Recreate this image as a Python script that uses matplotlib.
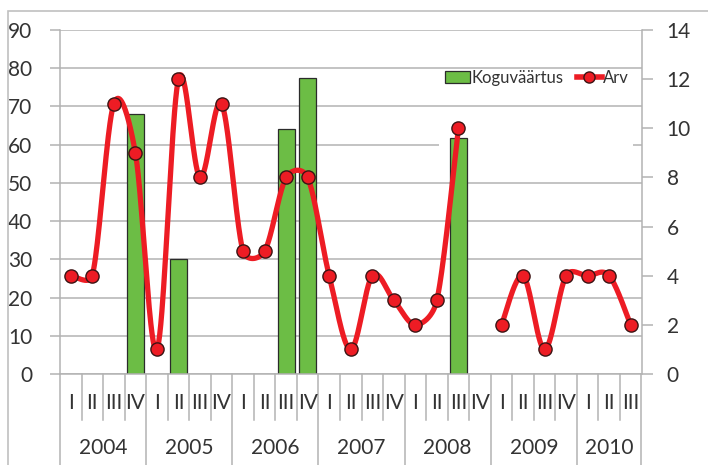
import numpy as np
import matplotlib
matplotlib.use("Agg")
import matplotlib.pyplot as plt
from matplotlib.patches import Rectangle, Patch
from matplotlib.lines import Line2D
import matplotlib.transforms as mtransforms

plt.rcParams['font.family'] = ['Lato', 'DejaVu Sans']

years = ['2004', '2005', '2006', '2007', '2008', '2009', '2010']
quarters_per_year = [4, 4, 4, 4, 4, 4, 3]
quarter_names = ['I', 'II', 'III', 'IV']

nan = np.nan
koguvaartus = [nan, nan, nan, 68,
               nan, 30, nan, nan,
               nan, nan, 64, 77.5,
               nan, nan, nan, nan,
               nan, nan, 61.7, nan,
               nan, nan, nan, nan,
               nan, nan, nan]
arv = [4, 4, 11, 9,
       1, 12, 8, 11,
       5, 5, 8, 8,
       4, 1, 4, 3,
       2, 3, 10, nan,
       2, 4, 1, 4,
       4, 4, 2]

GREEN = '#6cbd45'
RED = '#ed1c24'
GRID = '#b3b3b3'
TXT = '#333333'

W, H = 708, 465
fig = plt.figure(figsize=(W / 100, H / 100), dpi=100)
L, R, T, B = 60, 641.5, 30, 374
ax = fig.add_axes([L / W, 1 - B / H, (R - L) / W, (B - T) / H])
ax2 = ax.twinx()

# outer chart border
fig.patches.append(Rectangle((8 / W, -0.1), 1.2, 1 - 11 / H + 0.1, transform=fig.transFigure,
                             fill=False, edgecolor='#c0c0c0', linewidth=1.2))

n = len(arv)
x = np.arange(n)

ax.set_xlim(-0.5, n - 0.5)
ax.set_ylim(0, 90)
ax2.set_ylim(0, 14)
ax.set_yticks(np.arange(0, 91, 10))
ax2.set_yticks(np.arange(0, 15, 2))

ax.set_axisbelow(True)
ax.yaxis.grid(True, color=GRID, linewidth=1.1)
ax.xaxis.grid(False)
ax.set_xticks([])

for a in (ax, ax2):
    for s in a.spines.values():
        s.set_visible(False)
ax.spines['left'].set_visible(True)
ax.spines['left'].set_color(GRID)
ax.spines['bottom'].set_visible(True)
ax.spines['bottom'].set_color(GRID)
ax2.spines['right'].set_visible(True)
ax2.spines['right'].set_color(GRID)
for sp in (ax.spines['left'], ax.spines['bottom'], ax2.spines['right']):
    sp.set_linewidth(1.1)

ax.tick_params(axis='y', length=7, color=GRID, width=1.1, pad=13, labelsize=15, labelcolor=TXT)
ax2.tick_params(axis='y', length=8, color=GRID, width=1.1, pad=10, labelsize=15, labelcolor=TXT)

# legend background box (white, hides gridlines)
box_tr = mtransforms.Affine2D().scale(1, -1).translate(0, H)
ax.add_patch(Rectangle((439, 115), 194, 60, transform=box_tr, facecolor='white',
                       edgecolor='none', zorder=0.8))

# bars
vals = np.array(koguvaartus, dtype=float)
mask = ~np.isnan(vals)
ax.bar(x[mask], vals[mask], width=0.8, color=GREEN, edgecolor='#2b2b2b', linewidth=0.9, zorder=2)

# smoothed line (Excel-style Bezier smoothing, computed in pixel space)
sx = (R - L) / n          # pixels per category
sy = (B - T) / 14.0       # pixels per right-axis unit
yv = np.array(arv, dtype=float)
runs = []
cur = []
for i in range(n):
    if np.isnan(yv[i]):
        if cur:
            runs.append(cur)
        cur = []
    else:
        cur.append(i)
if cur:
    runs.append(cur)


def dist(a, b):
    return np.hypot((a[0] - b[0]) * sx, (a[1] - b[1]) * sy)


for run in runs:
    px = x[run].astype(float)
    py = yv[run]
    m = len(px)
    xs, ys = [], []
    for k in range(m - 1):
        p0 = (px[max(k - 1, 0)], py[max(k - 1, 0)])
        p1 = (px[k], py[k])
        p2 = (px[k + 1], py[k + 1])
        p3 = (px[min(k + 2, m - 1)], py[min(k + 2, m - 1)])
        d02 = dist(p0, p2)
        d12 = dist(p1, p2)
        d13 = dist(p1, p3)
        f = 1 / 6
        f0 = f if d02 / 6 < d12 / 2 else (d12 / 2) / d02
        f1 = f if d13 / 6 < d12 / 2 else (d12 / 2) / d13
        c1 = (p1[0] + f0 * (p2[0] - p0[0]), p1[1] + f0 * (p2[1] - p0[1]))
        c2 = (p2[0] - f1 * (p3[0] - p1[0]), p2[1] - f1 * (p3[1] - p1[1]))
        t = np.linspace(0, 1, 40)
        bx = (1 - t) ** 3 * p1[0] + 3 * (1 - t) ** 2 * t * c1[0] + 3 * (1 - t) * t ** 2 * c2[0] + t ** 3 * p2[0]
        by = (1 - t) ** 3 * p1[1] + 3 * (1 - t) ** 2 * t * c1[1] + 3 * (1 - t) * t ** 2 * c2[1] + t ** 3 * p2[1]
        xs.extend(bx)
        ys.extend(by)
    ax2.plot(xs, ys, color=RED, linewidth=3.8, solid_capstyle='round', zorder=3)

ax2.plot(x, yv, linestyle='none', marker='o', markersize=9.5, markerfacecolor=RED,
         markeredgecolor='#3b1414', markeredgewidth=1.0, zorder=4)

# category axis labels
trans = mtransforms.blended_transform_factory(ax.transData, ax.transAxes)
q_bottom = -(420 - B) / (B - T)
y_bottom = -(H + 5 - B) / (B - T)
q_text_y = -(403 - B) / (B - T)
y_text_y = -(448 - B) / (B - T)

idx = 0
for yi, (yr, nq) in enumerate(zip(years, quarters_per_year)):
    start = idx
    for q in range(nq):
        ax.text(idx, q_text_y, quarter_names[q], transform=trans, ha='center', va='center',
                fontsize=15, color=TXT)
        if q > 0:
            ax.add_line(Line2D([idx - 0.5, idx - 0.5], [0, q_bottom], transform=trans,
                               color=GRID, linewidth=1.1, clip_on=False))
        idx += 1
    ax.add_line(Line2D([start - 0.5, start - 0.5], [0, y_bottom], transform=trans,
                       color=GRID, linewidth=1.1, clip_on=False))
    ax.text((start + idx - 1) / 2, y_text_y, yr, transform=trans, ha='center', va='center',
            fontsize=15, color=TXT)
ax.add_line(Line2D([idx - 0.5, idx - 0.5], [0, y_bottom], transform=trans,
                   color=GRID, linewidth=1.1, clip_on=False))

# legend
handles = [Patch(facecolor=GREEN, edgecolor='#2b2b2b', linewidth=0.9),
           Line2D([], [], color=RED, linewidth=4, marker='o', markersize=8,
                  markerfacecolor=RED, markeredgecolor='#3b1414')]
leg = fig.legend(handles, ['Koguväärtus', 'Arv'], loc='center',
                 bbox_to_anchor=(537 / W, 1 - 78 / H), ncol=2, frameon=False,
                 fontsize=12, handlelength=1.5, handletextpad=0.1, columnspacing=0.8,
                 labelcolor=TXT)

fig.savefig('out.png', dpi=100)
